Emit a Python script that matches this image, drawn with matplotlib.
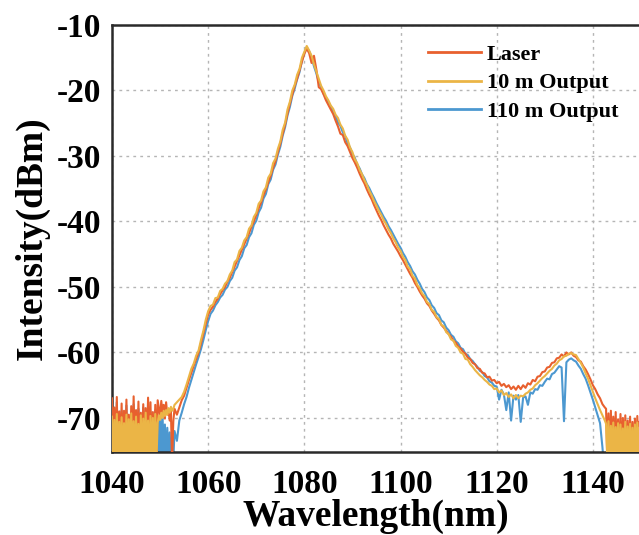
import numpy as np
import matplotlib
matplotlib.use("Agg")
import matplotlib.pyplot as plt

# Spectra in three segments:
#   left noise floor  1040.00-1052.75 nm, 0.25 nm step
#   main spectrum     1053.0 -1142.5  nm, 0.5  nm step
#   right noise floor 1142.75-1150.0  nm, 0.25 nm step
left_start, left_step = 1040.0, 0.25
mid_start, mid_step = 1053.0, 0.5
right_start, right_step = 1142.75, 0.25

laser_left = [
    -67.0, -76.6, -68.4, -76.1, -66.8, -76.9, -69.0, -76.3,   # 1040
    -67.8, -76.5, -68.9, -76.2, -67.2, -76.8, -69.5, -76.0,   # 1042
    -68.2, -76.4, -66.7, -76.7, -68.8, -76.1, -67.5, -76.6,   # 1044
    -69.2, -76.3, -67.9, -76.8, -68.5, -76.2, -66.9, -76.5,   # 1046
    -67.6, -76.0, -69.1, -76.7, -68.0, -76.4, -67.3, -68.5,   # 1048
    -69.8, -67.4, -69.2, -68.0, -70.1, -67.6, -69.5, -68.8,   # 1050
    -70.4, -69.0, -76.8, -70.5,                               # 1052
]
laser_mid = [
    -68.6, -69.5, -68.4, -67.3,                                            # 1053
    -66.6, -65.4, -64.2, -63.1, -62.0, -61.0, -60.0, -58.6, -57.1, -55.6,  # 1055
    -54.2, -53.5, -53.0, -52.3, -51.8, -51.1, -50.5, -50.0, -49.2, -48.6,  # 1060
    -47.7, -46.9, -46.0, -45.2, -44.3, -43.5, -42.6, -41.8, -40.8, -40.0,  # 1065
    -39.0, -38.0, -37.1, -36.0, -35.1, -34.0, -33.0, -31.8, -30.8, -29.4,  # 1070
    -28.1, -26.6, -25.2, -23.5, -22.0, -20.6, -19.3, -18.2, -16.9, -15.6,  # 1075
    -14.4, -13.6, -14.3, -15.8, -14.7, -16.8, -19.5, -19.8, -20.6, -21.5,  # 1080
    -22.2, -22.9, -23.6, -24.6, -25.5, -26.6, -26.8, -27.9, -28.5, -29.4,  # 1085
    -30.3, -31.0, -31.8, -32.7, -33.5, -34.2, -35.1, -35.9, -36.6, -37.5,  # 1090
    -38.3, -39.1, -39.8, -40.6, -41.3, -42.0, -42.6, -43.4, -44.0, -44.6,  # 1095
    -45.3, -45.9, -46.6, -47.3, -48.0, -48.6, -49.4, -50.0, -50.7, -51.3,  # 1100
    -51.8, -52.5, -52.9, -53.6, -54.1, -54.7, -55.1, -55.8, -56.2, -56.7,  # 1105
    -57.2, -57.6, -58.2, -58.5, -59.1, -59.4, -59.9, -60.2, -60.8, -61.0,  # 1110
    -61.6, -61.8, -62.4, -62.5, -63.1, -63.2, -63.8, -63.7, -64.3, -64.2,  # 1115
    -64.7, -64.5, -65.1, -64.8, -65.3, -65.0, -65.6, -65.2, -65.7, -65.1,  # 1120
    -65.6, -65.0, -65.4, -64.7, -64.9, -64.2, -64.4, -63.7, -63.6, -63.0,  # 1125
    -62.9, -62.3, -62.2, -61.6, -61.5, -60.9, -60.8, -60.3, -60.6, -60.0,  # 1130
    -60.3, -60.0, -60.5, -60.7, -61.2, -61.4, -62.1, -62.6, -63.3, -64.1,  # 1135
    -65.0, -65.6, -66.4, -67.0, -67.9, -68.4,                              # 1140
]
laser_right = [
    -68.6, -76.4, -69.3, -76.9, -68.9, -76.2, -69.8, -76.6,   # 1142.75
    -69.1, -76.3, -70.2, -76.8, -69.4, -76.5, -70.0, -76.1,   # 1144.75
    -69.6, -76.7, -70.4, -76.2, -69.8, -76.9, -70.6, -76.4,   # 1146.75
    -70.1, -76.6, -69.7, -76.2, -70.5, -76.8,                 # 1148.75
]

out10_left = [
    -69.8, -76.4, -70.3, -76.0, -69.4, -76.8, -70.6, -76.2,   # 1040
    -69.9, -76.5, -70.8, -76.1, -69.5, -76.7, -70.2, -76.3,   # 1042
    -69.3, -76.0, -70.5, -76.6, -69.8, -76.2, -70.9, -76.5,   # 1044
    -69.6, -76.8, -70.1, -76.0, -69.2, -76.4, -70.4, -76.7,   # 1046
    -69.7, -76.1, -70.0, -76.6, -69.4, -76.3, -70.7, -69.6,   # 1048
    -70.3, -69.2, -70.0, -68.9, -69.7, -68.8, -69.5, -68.5,   # 1050
    -69.2, -68.3, -68.9, -68.6,                               # 1052
]
out10_mid = [
    -68.0, -67.6, -67.2, -66.8,                                            # 1053
    -66.0, -64.9, -63.7, -62.5, -61.7, -60.5, -59.7, -58.1, -56.7, -55.0,  # 1055
    -53.7, -52.9, -52.7, -51.7, -51.6, -50.6, -50.3, -49.5, -49.1, -48.1,  # 1060
    -47.5, -46.2, -45.8, -44.5, -44.0, -42.9, -42.4, -41.1, -40.6, -39.3,  # 1065
    -38.7, -37.3, -36.8, -35.4, -34.8, -33.3, -32.7, -31.1, -30.4, -28.9,  # 1070
    -27.8, -26.0, -24.9, -22.9, -21.7, -20.0, -19.1, -17.6, -16.7, -15.0,  # 1075
    -14.1, -13.2, -13.9, -14.7, -16.0, -17.1, -18.2, -19.3, -20.0, -20.9,  # 1080
    -21.5, -22.3, -22.8, -23.7, -24.2, -25.2, -25.8, -26.9, -27.5, -28.7,  # 1085
    -29.4, -30.5, -31.1, -32.1, -32.8, -33.7, -34.4, -35.3, -36.0, -36.9,  # 1090
    -37.6, -38.4, -39.0, -39.8, -40.4, -41.2, -41.8, -42.6, -43.2, -44.0,  # 1095
    -44.5, -45.4, -45.9, -46.9, -47.3, -48.3, -48.7, -49.7, -50.2, -51.0,  # 1100
    -51.4, -52.3, -52.6, -53.5, -53.8, -54.6, -54.9, -55.8, -56.0, -56.9,  # 1105
    -57.2, -58.0, -58.2, -59.0, -59.3, -60.0, -60.2, -61.0, -61.1, -61.8,  # 1110
    -62.2, -62.7, -63.1, -63.5, -63.8, -64.2, -64.5, -64.9, -65.1, -65.6,  # 1115
    -65.5, -66.1, -65.8, -66.5, -66.2, -66.8, -66.4, -67.0, -66.5, -67.0,  # 1120
    -66.6, -66.7, -66.3, -66.1, -65.7, -65.5, -65.0, -64.7, -64.3, -63.9,  # 1125
    -63.6, -63.2, -62.8, -62.5, -62.0, -61.7, -61.2, -61.0, -60.6, -60.5,  # 1130
    -60.2, -60.1, -60.3, -60.4, -61.0, -61.6, -62.3, -63.2, -64.0, -65.0,  # 1135
    -66.0, -67.0, -67.9, -68.8, -69.6, -70.4,                              # 1140
]
out10_right = [
    -70.9, -76.3, -70.5, -76.8, -71.2, -76.1, -70.7, -76.5,   # 1142.75
    -71.4, -76.2, -70.8, -76.7, -71.0, -76.4, -71.6, -76.0,   # 1144.75
    -70.6, -76.6, -71.3, -76.2, -70.9, -76.8, -71.5, -76.3,   # 1146.75
    -71.0, -76.5, -70.7, -76.1, -71.4, -76.6,                 # 1148.75
]

out110_left = [
    -68.3, -76.8, -69.5, -76.2, -67.6, -76.6, -70.1, -76.9,   # 1040
    -68.9, -76.3, -69.9, -76.7, -68.1, -76.4, -70.3, -76.1,   # 1042
    -69.2, -76.9, -67.9, -76.5, -69.7, -76.2, -68.6, -76.8,   # 1044
    -70.0, -76.4, -68.4, -76.7, -69.3, -76.1, -67.7, -76.6,   # 1046
    -69.0, -76.3, -70.4, -76.8, -68.8, -76.5, -69.6, -76.2,   # 1048
    -70.2, -76.7, -69.1, -76.4, -71.0, -76.9, -71.5, -76.3,   # 1050
    -72.2, -76.8, -72.8, -76.5,                               # 1052
]
out110_mid = [
    -72.0, -73.5, -70.4, -69.2,                                            # 1053
    -67.9, -66.8, -65.4, -64.2, -63.0, -61.8, -60.7, -59.5, -58.1, -56.6,  # 1055
    -55.2, -54.1, -53.6, -52.8, -52.3, -51.6, -51.2, -50.4, -50.0, -49.1,  # 1060
    -48.6, -47.5, -47.0, -45.9, -45.3, -44.1, -43.6, -42.4, -41.8, -40.5,  # 1065
    -39.9, -38.6, -37.9, -36.5, -35.8, -34.3, -33.6, -32.1, -31.3, -29.8,  # 1070
    -28.6, -26.9, -25.6, -23.8, -22.5, -20.8, -19.7, -18.3, -17.2, -15.5,  # 1075
    -14.3, -13.4, -14.0, -14.9, -16.3, -17.4, -18.7, -19.5, -20.5, -21.1,  # 1080
    -21.9, -22.4, -23.4, -23.9, -24.9, -25.4, -26.4, -27.0, -28.1, -28.7,  # 1085
    -29.7, -30.3, -31.3, -31.9, -32.8, -33.4, -34.3, -34.9, -35.7, -36.4,  # 1090
    -37.2, -37.9, -38.6, -39.3, -39.9, -40.7, -41.3, -42.0, -42.7, -43.4,  # 1095
    -44.0, -44.8, -45.4, -46.2, -46.8, -47.6, -48.1, -48.9, -49.5, -50.3,  # 1100
    -50.8, -51.6, -52.0, -52.8, -53.2, -54.0, -54.3, -55.1, -55.4, -56.2,  # 1105
    -56.6, -57.3, -57.6, -58.3, -58.6, -59.3, -59.5, -60.2, -60.4, -61.0,  # 1110
    -61.3, -61.8, -62.2, -62.8, -63.0, -63.6, -63.8, -64.4, -64.6, -65.1,  # 1115
    -65.2, -67.2, -65.7, -66.4, -68.8, -66.1, -70.4, -66.6, -67.2, -66.5,  # 1120
    -70.6, -66.9, -66.7, -68.0, -66.1, -66.3, -65.6, -65.7, -65.0, -65.1,  # 1125
    -64.5, -64.0, -64.1, -63.3, -63.1, -62.6, -62.1, -62.3, -70.5, -61.5,  # 1130
    -61.1, -60.9, -61.2, -61.4, -62.0, -62.5, -63.3, -64.0, -65.0, -66.1,  # 1135
    -67.2, -68.4, -69.6, -70.8, -74.5, -79.0,                              # 1140
]
out110_right = [
    -79.0, -79.0, -79.0, -79.0, -79.0, -79.0, -79.0, -79.0,   # 1142.75
    -79.0, -79.0, -79.0, -79.0, -79.0, -79.0, -79.0, -79.0,   # 1144.75
    -79.0, -79.0, -79.0, -79.0, -79.0, -79.0, -79.0, -79.0,   # 1146.75
    -79.0, -79.0, -79.0, -79.0, -79.0, -79.0,                 # 1148.75
]

series_labels = ["Laser", "10 m Output", "110 m Output"]
x_ticks = [1040, 1060, 1080, 1100, 1120, 1140]
y_ticks = [-70, -60, -50, -40, -30, -20, -10]

series = {
    "Laser": (laser_left, laser_mid, laser_right),
    "10 m Output": (out10_left, out10_mid, out10_right),
    "110 m Output": (out110_left, out110_mid, out110_right),
}
colors = {"Laser": "#E8602E", "10 m Output": "#EBB546", "110 m Output": "#4C98D0"}
zorders = {"Laser": 3, "10 m Output": 4, "110 m Output": 2}

plt.rcParams["font.family"] = ["Liberation Serif", "DejaVu Serif"]
plt.rcParams["font.weight"] = "bold"
plt.rcParams["axes.unicode_minus"] = False

fig = plt.figure(figsize=(6.39, 5.35), dpi=100)
ax = fig.add_axes([112 / 639, 1 - 452 / 535, 1 - 112 / 639, (452 - 25) / 535])

for name in series_labels:
    left, mid, right = series[name]
    wl = np.concatenate([
        left_start + left_step * np.arange(len(left)),
        mid_start + mid_step * np.arange(len(mid)),
        right_start + right_step * np.arange(len(right)),
    ])
    vals = np.concatenate([left, mid, right])
    ax.plot(wl, vals, color=colors[name], lw=1.5, label=name,
            zorder=zorders[name])

ax.set_xlim(1040, 1149.6)
ax.set_ylim(-75.2, -10)
ax.set_xticks(x_ticks)
ax.set_yticks(y_ticks)
ax.tick_params(length=0, labelsize=24)
ax.tick_params(axis="x", pad=12)
ax.tick_params(axis="y", pad=8)
for lab in ax.get_xticklabels() + ax.get_yticklabels():
    lab.set_fontweight("bold")

ax.grid(True, color="#b5b5b5", linestyle=(0, (2, 3)), linewidth=1.0)
ax.set_axisbelow(True)

for side in ["left", "bottom", "top"]:
    ax.spines[side].set_linewidth(1.8)
    ax.spines[side].set_color("#2a2a2a")
ax.spines["right"].set_visible(False)

ax.set_xlabel("Wavelength(nm)", fontsize=27, fontweight="bold")
ax.xaxis.set_label_coords(0.5, -0.109)
ax.set_ylabel("Intensity(dBm)", fontsize=27, fontweight="bold")
ax.yaxis.set_label_coords(-0.118, 0.5)

handles, labels = ax.get_legend_handles_labels()
leg = ax.legend(handles, labels, loc="upper left",
                bbox_to_anchor=(428 / 639, 1 - 44 / 535),
                bbox_transform=fig.transFigure, frameon=False,
                fontsize=16, handlelength=2.4, handletextpad=0.25,
                labelspacing=0.37, borderpad=0, borderaxespad=0)
for t in leg.get_texts():
    t.set_fontweight("bold")
for h in leg.get_lines():
    h.set_linewidth(2.0)

fig.savefig("out.png", dpi=100)
